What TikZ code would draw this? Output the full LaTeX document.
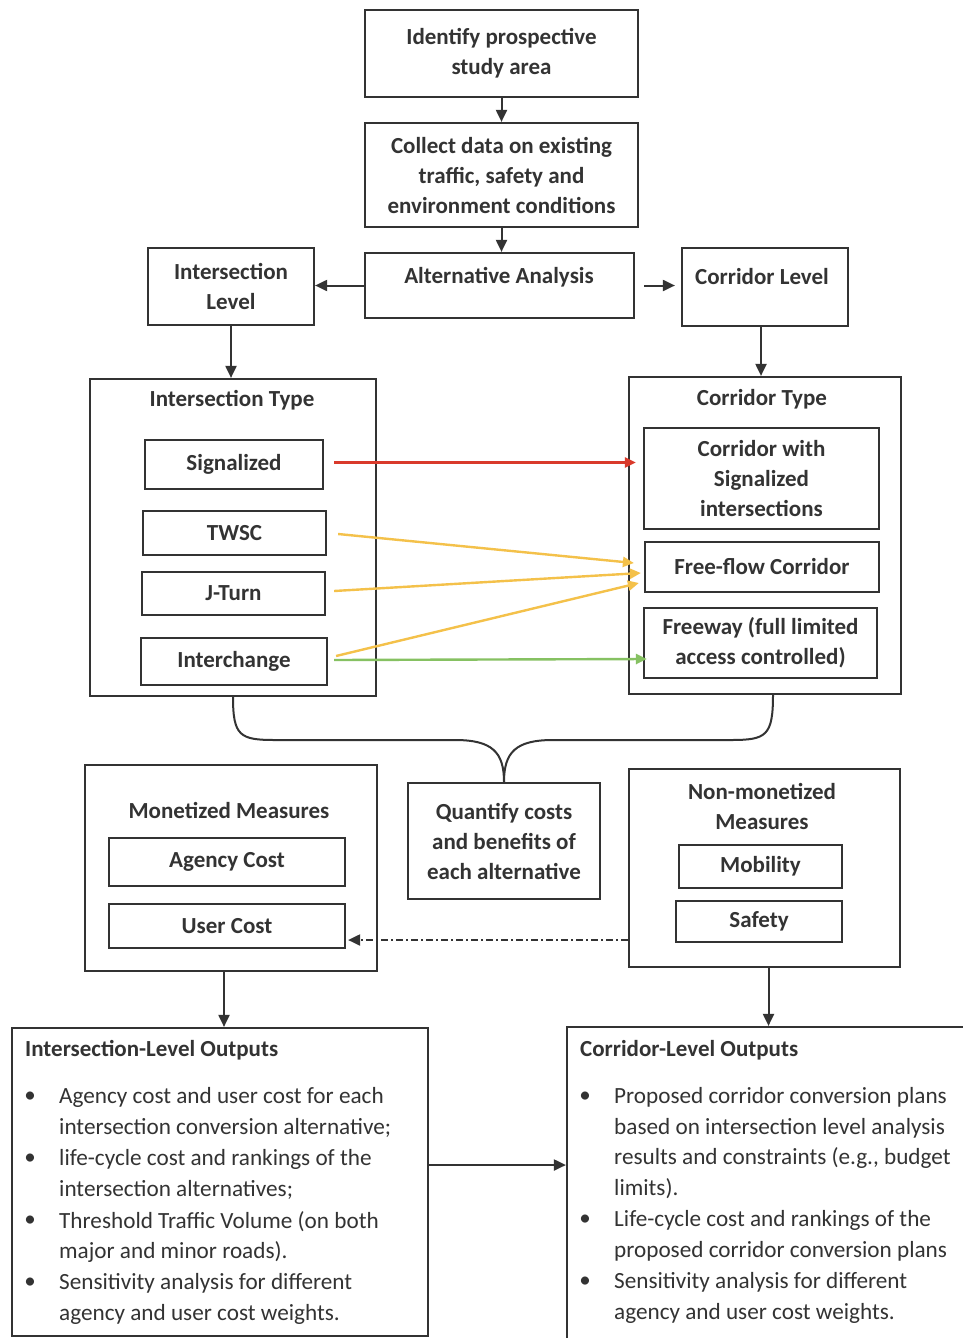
\documentclass[tikz,border=0pt]{standalone}
\usepackage{fontspec}
\setmainfont{Carlito}
\usetikzlibrary{arrows.meta}
\definecolor{ln}{HTML}{333333}
\definecolor{redar}{HTML}{D93A2B}
\definecolor{yelar}{HTML}{F4C14A}
\definecolor{grnar}{HTML}{86C162}
\begin{document}
\begin{tikzpicture}[x=1pt,y=-1pt,
  box/.style={draw=ln, line width=2.2pt, inner sep=0pt, align=center, text=ln,
    font=\fontsize{23}{30}\selectfont\bfseries},
  txt/.style={inner sep=0pt, align=center, text=ln, font=\fontsize{23}{30}\selectfont\bfseries},
  item/.style={inner sep=0pt, align=left, anchor=north west, text=ln, font=\fontsize{23.2}{30.8}\selectfont},
  bul/.style={inner sep=0pt, text=ln, font=\fontsize{23}{30}\selectfont},
  head/.style={inner sep=0pt, anchor=west, text=ln, font=\fontsize{23}{30}\selectfont\bfseries},
  arr/.style={draw=ln, line width=2pt, -{Triangle[length=12pt,width=11pt]}},
  carr/.style={line width=2.4pt, -{Triangle[length=11pt,width=10pt]}},
  brace/.style={draw=ln, line width=2pt},
  dd/.style={draw=ln, line width=2pt, dash pattern=on 7pt off 3pt on 2pt off 3pt, -{Triangle[length=12pt,width=11pt]}}
]
\fill[white] (0,0) rectangle (962,1338);
\useasboundingbox (0,0) rectangle (962,1338);

% top chain
\node[box, minimum width=273pt, minimum height=87pt] (identify) at (501.5,53.5) {Identify prospective\\study area};
\node[box, minimum width=273pt, minimum height=104pt] (collect) at (501.5,175) {Collect data on existing\\traffic, safety and\\environment conditions};
\node[box, minimum width=269pt, minimum height=65pt] (alt) at (499.5,285.5) {};
\node[txt] (altt) at (499,277) {Alternative Analysis};
\node[box, minimum width=166pt, minimum height=77pt] (intlev) at (231,286.5) {Intersection\\Level};
\node[box, minimum width=166pt, minimum height=78pt] (corlev) at (765,287) {};
\node[txt] (corlevt) at (762,277) {Corridor Level};

% type boxes
\node[box, minimum width=286pt, minimum height=317pt] (inttype) at (233,537.5) {};
\node[txt] (inttypet) at (232,400) {Intersection Type};
\node[box, minimum width=178pt, minimum height=49pt] (sig) at (234,464.5) {Signalized};
\node[box, minimum width=183pt, minimum height=44pt] (twsc) at (234.5,533) {TWSC};
\node[box, minimum width=183pt, minimum height=43pt] (jturn) at (233.5,593.5) {J-Turn};
\node[box, minimum width=186pt, minimum height=47pt] (inter) at (234,661.5) {Interchange};

\node[box, minimum width=272pt, minimum height=317pt] (cortype) at (765,535.5) {};
\node[txt] (cortypet) at (762,399) {Corridor Type};
\node[box, minimum width=235pt, minimum height=101pt] (cws) at (761.5,478.5) {Corridor with\\Signalized\\intersections};
\node[box, minimum width=234pt, minimum height=50pt] (ffc) at (762,567) {Free-flow Corridor};
\node[box, minimum width=233pt, minimum height=70pt] (fwy) at (760.5,643) {Freeway (full limited\\access controlled)};

% measures
\node[box, minimum width=292pt, minimum height=206pt] (mon) at (231,868) {};
\node[txt] (mont) at (229,810) {Monetized Measures};
\node[box, minimum width=236pt, minimum height=48pt] (agency) at (227,862) {Agency Cost};
\node[box, minimum width=236pt, minimum height=44pt] (user) at (227,926) {User Cost};
\node[box, minimum width=192pt, minimum height=116pt] (quant) at (504,841) {Quantify costs\\and benefits of\\each alternative};
\node[box, minimum width=271pt, minimum height=198pt] (nonmon) at (764.5,868) {};
\node[txt] (nonmont) at (762,806) {Non-monetized\\Measures};
\node[box, minimum width=163pt, minimum height=43pt] (mob) at (760.5,866.5) {Mobility};
\node[box, minimum width=166pt, minimum height=41pt] (safety) at (759,921.5) {Safety};

% outputs
\node[box, minimum width=416pt, minimum height=308pt] (intout) at (220,1182) {};
\node[box, minimum width=403pt, minimum height=318pt] (corout) at (768.5,1186) {};
\node[head] (intoutt) at (25,1050) {Intersection-Level Outputs};
\node[head] (coroutt) at (580,1050) {Corridor-Level Outputs};

\node[bul] (b1) at (30,1097) {•};
\node[bul] (b2) at (30,1159) {•};
\node[bul] (b3) at (30,1221) {•};
\node[bul] (b4) at (30,1283) {•};
\node[item] (i1) at (59,1087) {Agency cost and user cost for each\\intersection conversion alternative;};
\node[item] (i2) at (59,1149) {life-cycle cost and rankings of the\\intersection alternatives;};
\node[item] (i3) at (59,1211) {Threshold Traffic Volume (on both\\major and minor roads).};
\node[item] (i4) at (59,1273) {Sensitivity analysis for different\\agency and user cost weights.};

\node[bul] (c1) at (585,1097) {•};
\node[bul] (c2) at (585,1220) {•};
\node[bul] (c3) at (585,1282) {•};
\node[item] (j1) at (614,1087) {Proposed corridor conversion plans\\based on intersection level analysis\\results and constraints (e.g., budget\\limits).};
\node[item] (j2) at (614,1210) {Life-cycle cost and rankings of the\\proposed corridor conversion plans};
\node[item] (j3) at (614,1272) {Sensitivity analysis for different\\agency and user cost weights.};

% black arrows
\draw[arr] (identify.south) -- (identify.south |- collect.north);
\draw[arr] (collect.south) -- (collect.south |- alt.north);
\draw[arr] (alt.west) -- (alt.west -| intlev.east);
\draw[arr] ([xshift=9pt]alt.east) -- ([xshift=-6pt]alt.east -| corlev.west);
\draw[arr] (intlev.south) -- (intlev.south |- inttype.north);
\draw[arr] ([xshift=-4pt]corlev.south) -- ([xshift=-4pt]corlev.south |- cortype.north);

% coloured arrows
\draw[carr, redar] ([shift={(10,-2)}]sig.east) -- ([shift={(8,-2)}]sig.east -| cortype.west);
\draw[carr, yelar] ([shift={(11,1)}]twsc.east) -- ([shift={(-10,-4)}]ffc.west);
\draw[carr, yelar] ([shift={(8,-2.5)}]jturn.east) -- ([shift={(-3,6)}]ffc.west);
\draw[carr, yelar] ([shift={(8,-5.5)}]inter.east) -- ([shift={(-5,16)}]ffc.west);
\draw[carr, grnar] ([shift={(6,-1.5)}]inter.east) -- ([shift={(4,16)}]fwy.west);

% brace
\draw[brace] (inttype.south) .. controls (233,736) and (240,740) .. (275,740) -- (455,740) .. controls (492,740) and (504,752) .. (quant.north);
\draw[brace] ([xshift=8pt]cortype.south) .. controls (773,736) and (766,740) .. (731,740) -- (553,740) .. controls (516,740) and (504,752) .. (quant.north);

% dash-dot arrow
\coordinate (ddend) at ([shift={(2,14)}]user.east);
\draw[dd] (ddend -| nonmon.west) -- (ddend);

% to outputs
\draw[arr] ([xshift=-7pt]mon.south) -- ([xshift=-7pt]mon.south |- intout.north);
\draw[arr] ([xshift=4pt]nonmon.south) -- ([xshift=4pt]nonmon.south |- corout.north);
\draw[arr] ([yshift=17pt]intout.east) -- ([yshift=17pt]intout.east -| corout.west);
\end{tikzpicture}
\end{document}
